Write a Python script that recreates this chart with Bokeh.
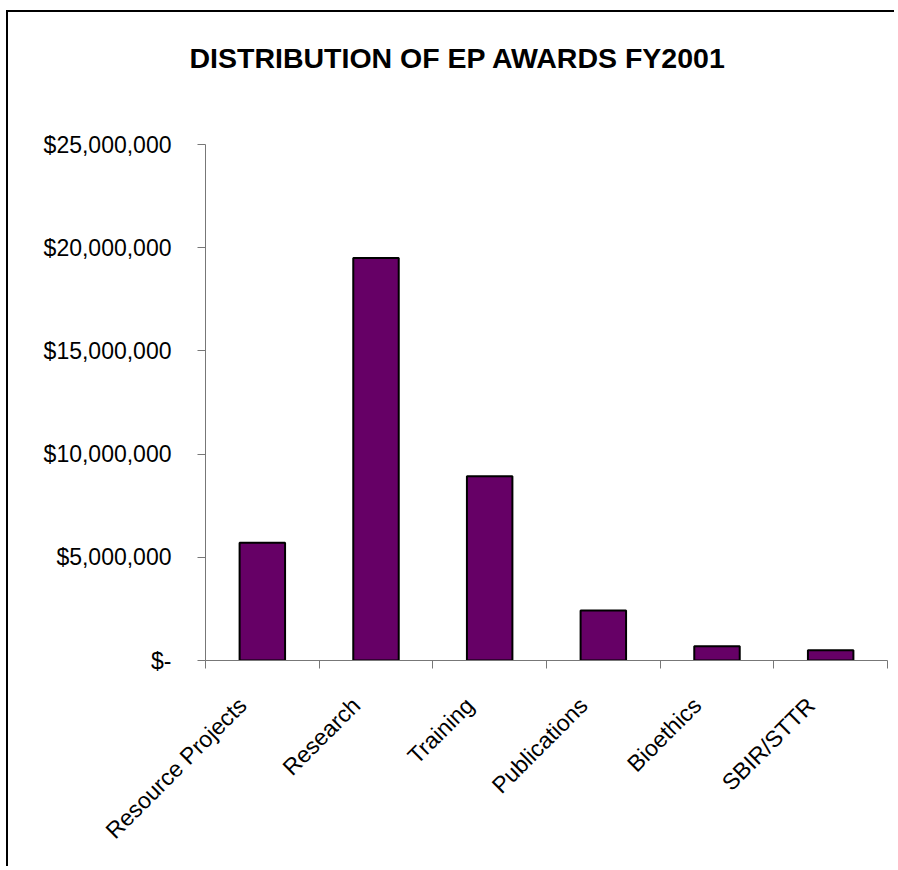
import math
from bokeh.plotting import figure
from bokeh.models import ColumnDataSource, FixedTicker, LinearAxis, Range1d, Title
from bokeh.embed import file_html
from bokeh.resources import INLINE

# ---- data ----
categories = ["Resource Projects", "Research", "Training", "Publications", "Bioethics", "SBIR/STTR"]
awards = [5700000, 19500000, 8930000, 2420000, 690000, 500000]
y_ticks = [0, 5000000, 10000000, 15000000, 20000000, 25000000]
y_tick_labels = ["$-", "$5,000,000", "$10,000,000", "$15,000,000", "$20,000,000", "$25,000,000"]
title_text = "DISTRIBUTION OF EP AWARDS FY2001"

FONT = "Liberation Sans"
AXIS_COLOR = "#777777"
LABEL_SHIFT = -0.175   # category label anchor shift (in category widths)

n = len(categories)
centers = [i + 0.5 for i in range(n)]
label_pos = [c + LABEL_SHIFT for c in centers]
source = ColumnDataSource(dict(x=centers, top=awards, name=categories))

W, H = 888, 856
p = figure(width=W, height=H, output_backend="svg", toolbar_location=None,
           x_range=Range1d(0, n), y_range=Range1d(0, y_ticks[-1]),
           x_axis_location=None, y_axis_location=None,
           min_border_left=197, min_border_right=W - 879,
           min_border_top=132, min_border_bottom=H - 648,
           styles={"border-top": "2px solid black", "border-left": "2px solid black",
                   "margin-left": "6px", "margin-top": "10px"})
p.outline_line_color = None
p.grid.visible = False
p.background_fill_color = "white"
p.border_fill_color = "white"
p.title.text = ""

# blank spacer title between the frame and the real title
gap = Title(text=" ", text_font=FONT, text_font_size="20px", standoff=42)
p.add_layout(gap, "above")
main_title = Title(text=title_text, text_font=FONT, text_font_size="28.5px",
                   text_font_style="bold", text_color="black",
                   align="left", offset=-16, standoff=10)
p.add_layout(main_title, "above")

p.vbar(x="x", top="top", width=0.4, bottom=0, source=source,
       fill_color="#660066", line_color="black", line_width=2)

# y axis
yaxis = LinearAxis(ticker=FixedTicker(ticks=y_ticks, minor_ticks=[]))
yaxis.major_label_overrides = {t: l for t, l in zip(y_ticks, y_tick_labels)}
yaxis.axis_line_color = AXIS_COLOR
yaxis.major_tick_line_color = AXIS_COLOR
yaxis.major_tick_in = 0
yaxis.major_tick_out = 8
yaxis.minor_tick_line_color = None
yaxis.major_label_standoff = 26
yaxis.major_label_text_font = FONT
yaxis.major_label_text_font_size = "23px"
yaxis.major_label_text_color = "black"
p.add_layout(yaxis, "left")

# x axis: labels near centers, tick marks at category boundaries
xaxis = LinearAxis(ticker=FixedTicker(ticks=label_pos, minor_ticks=list(range(n + 1))))
xaxis.major_label_overrides = {c: name for c, name in zip(label_pos, categories)}
xaxis.axis_line_color = AXIS_COLOR
xaxis.major_tick_line_color = None
xaxis.major_tick_in = 0
xaxis.major_tick_out = 0
xaxis.minor_tick_line_color = AXIS_COLOR
xaxis.minor_tick_in = 0
xaxis.minor_tick_out = 8
xaxis.major_label_orientation = math.pi / 4
xaxis.major_label_standoff = 33
xaxis.major_label_text_font = FONT
xaxis.major_label_text_font_size = "23px"
xaxis.major_label_text_color = "black"
p.add_layout(xaxis, "below")

open("out.html", "w").write(file_html(p, INLINE))
